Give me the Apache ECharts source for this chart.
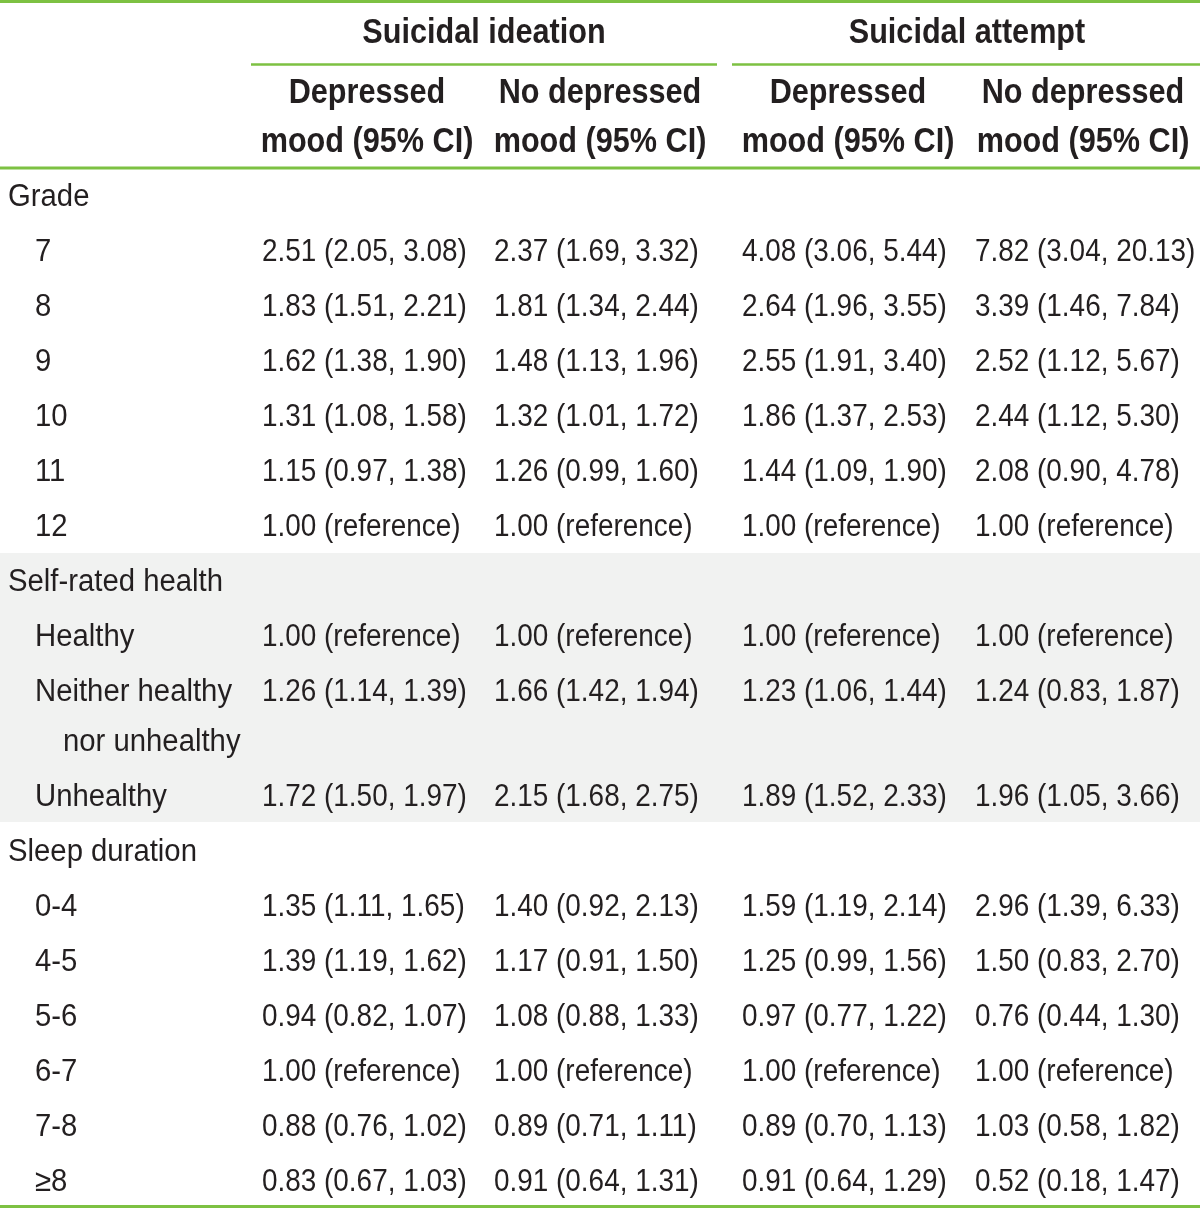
<!DOCTYPE html>
<html><head><meta charset="utf-8">
<script src="https://cdn.jsdelivr.net/npm/echarts@6/dist/echarts.min.js"></script>
<style>html,body{margin:0;padding:0;background:#fff}#c{width:1200px;height:1208px}</style>
</head><body><div id="c"></div>
<script>
// ---- data ----
const groupHeaders = ['Suicidal ideation', 'Suicidal attempt'];
const subHeaders = [['Depressed', 'mood (95% CI)'], ['No depressed', 'mood (95% CI)'], ['Depressed', 'mood (95% CI)'], ['No depressed', 'mood (95% CI)']];
const rowLabels = ['Grade', '7', '8', '9', '10', '11', '12',
  'Self-rated health', 'Healthy', 'Neither healthy|nor unhealthy', 'Unhealthy',
  'Sleep duration', '0-4', '4-5', '5-6', '6-7', '7-8', '≥8'];
const rowLevel = [0,1,1,1,1,1,1, 0,1,1,1, 0,1,1,1,1,1,1];
const ideationDepressed = ['', '2.51 (2.05, 3.08)', '1.83 (1.51, 2.21)', '1.62 (1.38, 1.90)', '1.31 (1.08, 1.58)', '1.15 (0.97, 1.38)', '1.00 (reference)',
  '', '1.00 (reference)', '1.26 (1.14, 1.39)', '1.72 (1.50, 1.97)',
  '', '1.35 (1.11, 1.65)', '1.39 (1.19, 1.62)', '0.94 (0.82, 1.07)', '1.00 (reference)', '0.88 (0.76, 1.02)', '0.83 (0.67, 1.03)'];
const ideationNoDepressed = ['', '2.37 (1.69, 3.32)', '1.81 (1.34, 2.44)', '1.48 (1.13, 1.96)', '1.32 (1.01, 1.72)', '1.26 (0.99, 1.60)', '1.00 (reference)',
  '', '1.00 (reference)', '1.66 (1.42, 1.94)', '2.15 (1.68, 2.75)',
  '', '1.40 (0.92, 2.13)', '1.17 (0.91, 1.50)', '1.08 (0.88, 1.33)', '1.00 (reference)', '0.89 (0.71, 1.11)', '0.91 (0.64, 1.31)'];
const attemptDepressed = ['', '4.08 (3.06, 5.44)', '2.64 (1.96, 3.55)', '2.55 (1.91, 3.40)', '1.86 (1.37, 2.53)', '1.44 (1.09, 1.90)', '1.00 (reference)',
  '', '1.00 (reference)', '1.23 (1.06, 1.44)', '1.89 (1.52, 2.33)',
  '', '1.59 (1.19, 2.14)', '1.25 (0.99, 1.56)', '0.97 (0.77, 1.22)', '1.00 (reference)', '0.89 (0.70, 1.13)', '0.91 (0.64, 1.29)'];
const attemptNoDepressed = ['', '7.82 (3.04, 20.13)', '3.39 (1.46, 7.84)', '2.52 (1.12, 5.67)', '2.44 (1.12, 5.30)', '2.08 (0.90, 4.78)', '1.00 (reference)',
  '', '1.00 (reference)', '1.24 (0.83, 1.87)', '1.96 (1.05, 3.66)',
  '', '2.96 (1.39, 6.33)', '1.50 (0.83, 2.70)', '0.76 (0.44, 1.30)', '1.00 (reference)', '1.03 (0.58, 1.82)', '0.52 (0.18, 1.47)'];
const shadedGroup = 'Self-rated health';

// ---- layout ----
const FONT = '"Liberation Sans","Arial",sans-serif';
const TXT = '#231f20', GREEN = '#7dc142', BAND = '#f1f2f1';
const FS = 31, FSB = 35, SX = 0.9, SXL = 0.945, SXB = 0.875;
const columns = [ideationDepressed, ideationNoDepressed, attemptDepressed, attemptNoDepressed];
const colX = [262, 494, 742, 975];
const subCenter = [367, 600, 848, 1083];
const groupCenter = [484, 967];
const indentX = [8, 35, 63];
const rowY = []; let yy = 197;
rowLabels.forEach((l, i) => { rowY.push(yy); yy += 55 + (l.split('|').length - 1) * 50; });

const cells = [];
groupHeaders.forEach((g, i) => cells.push({x: groupCenter[i], y: 33, t: g, a: 'center', b: true}));
subHeaders.forEach((s, i) => s.forEach((t, k) => cells.push({x: subCenter[i], y: 93 + k * 49, t, a: 'center', b: true})));
rowLabels.forEach((l, i) => {
  l.split('|').forEach((part, k) => cells.push({x: indentX[rowLevel[i] + k], y: rowY[i] + k * 50, t: part, a: 'left', lab: true}));
  columns.forEach((col, c) => { if (col[i]) cells.push({x: colX[c], y: rowY[i], t: col[i], a: 'left'}); });
});

const si = rowLabels.indexOf(shadedGroup);
let ei = si + 1; while (ei < rowLabels.length && rowLevel[ei] === 1) ei++;
const bandTop = rowY[si] - 29, bandBot = rowY[ei - 1] + 25;
const rules = [[1.5, 0, 1200, 3], [64.5, 251, 717, 2.5], [64.5, 732, 1200, 2.5], [168, 0, 1200, 3], [1206.5, 0, 1200, 3]];

const chart = echarts.init(document.getElementById('c'), null, {renderer: 'canvas'});
chart.setOption({
  animation: false,
  grid: {left: 0, right: 0, top: 0, bottom: 0},
  xAxis: {type: 'value', min: 0, max: 1200, show: false},
  yAxis: {type: 'value', min: 0, max: 1208, inverse: true, show: false},
  series: [
    {type: 'custom', z: 1, data: [[0, bandTop]], renderItem: (p, api) => {
      const a = api.coord([0, bandTop]), b = api.coord([1200, bandBot]);
      return {type: 'rect', shape: {x: a[0], y: a[1], width: b[0] - a[0], height: b[1] - a[1]}, style: {fill: BAND}};
    }},
    {type: 'custom', z: 2, data: rules.map(r => [r[1], r[0]]), renderItem: (p, api) => {
      const r = rules[p.dataIndex];
      const a = api.coord([r[1], r[0]]), b = api.coord([r[2], r[0]]);
      return {type: 'line', shape: {x1: a[0], y1: a[1], x2: b[0], y2: b[1]}, style: {stroke: GREEN, lineWidth: r[3]}};
    }},
    {type: 'custom', z: 3, data: cells.map(c => [c.x, c.y]), renderItem: (p, api) => {
      const c = cells[p.dataIndex];
      const pt = api.coord([c.x, c.y]);
      return {type: 'text', x: pt[0], y: pt[1], scaleX: c.b ? SXB : (c.lab ? SXL : SX),
        style: {text: c.t, fill: TXT, font: (c.b ? 'bold ' + FSB : FS) + 'px ' + FONT, align: c.a, verticalAlign: 'middle'}};
    }}
  ]
});
</script></body></html>
